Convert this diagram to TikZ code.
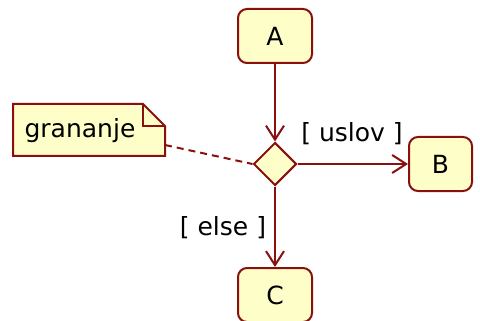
\documentclass[tikz,border=0pt]{standalone}
\usepackage{fontspec}
\setmainfont{DejaVu Sans}
\usetikzlibrary{shapes.geometric,arrows.meta}
\definecolor{umlline}{HTML}{8A1010}
\definecolor{umlfill}{HTML}{FEFEC8}
\tikzset{
  txt/.style={font=\fontsize{25}{30}\selectfont},
  state/.style={txt, draw=umlline, fill=umlfill, line width=2pt, rounded corners=9pt,
    minimum width=74pt, minimum height=54pt, inner sep=0pt},
  choice/.style={draw=umlline, fill=umlfill, line width=2pt, shape=diamond, aspect=1,
    minimum width=43pt, minimum height=43pt, inner sep=0pt},
  flow/.style={draw=umlline, line width=2pt, -{Straight Barb[length=14pt,width=18pt,line width=2pt]}},
  guard/.style={txt, inner sep=0pt},
  notelink/.style={draw=umlline, line width=2pt, dash pattern=on 7pt off 5pt},
  noteshape/.style={draw=umlline, fill=umlfill, line width=2pt, line join=miter}
}
\begin{document}
\begin{tikzpicture}[x=1pt, y=-1pt]
  \useasboundingbox (0,0) rectangle (480,321);

  % states
  \node[state] (A) at (275,36) {A};
  \node[state, minimum width=63pt] (B) at (440.5,164) {B};
  \node[state] (C) at (275,295) {C};

  % decision
  \node[choice] (D) at (275,164) {};

  % note with folded corner
  \draw[noteshape] (13,104) -- (143,104) -- (165,126) -- (165,156) -- (13,156) -- cycle;
  \draw[noteshape, fill=none] (143,104) -- (143,126) -- (165,126);
  \node[guard] (N) at (80,131) {grananje};
  \coordinate (Nend) at (165,145);

  % transitions
  \draw[flow] (A) -- (D);
  \draw[flow] (D) -- (B);
  \draw[flow] (D) -- (C);
  \draw[notelink] (Nend) -- (D.west);

  % guards
  \node[guard] (G1) at (352,134) {[ uslov ]};
  \node[guard] (G2) at (223,228) {[ else ]};
\end{tikzpicture}
\end{document}
